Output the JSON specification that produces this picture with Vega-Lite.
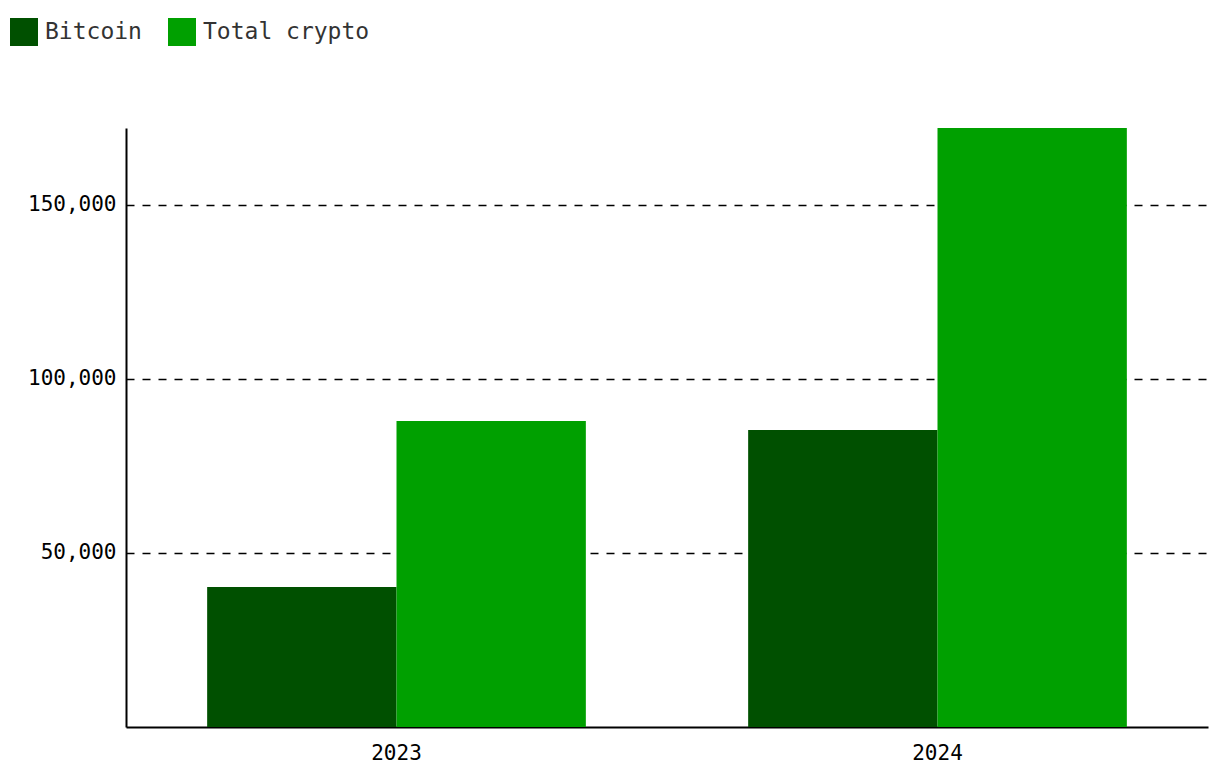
{
  "$schema": "https://vega.github.io/schema/vega-lite/v6.json",
  "width": 1082,
  "height": 599,
  "autosize": {"type": "none"},
  "padding": {"left": 126, "top": 128, "right": 12, "bottom": 57},
  "background": "white",
  "config": {
    "view": {"stroke": null},
    "font": "DejaVu Sans Mono"
  },
  "data": {
    "values": [
      {"year": "2023", "series": "Bitcoin", "value": 40200},
      {"year": "2023", "series": "Total crypto", "value": 87900},
      {"year": "2024", "series": "Bitcoin", "value": 85300},
      {"year": "2024", "series": "Total crypto", "value": 172000}
    ]
  },
  "mark": {"type": "bar"},
  "encoding": {
    "x": {
      "field": "year",
      "type": "nominal",
      "scale": {"paddingInner": 0.3, "paddingOuter": 0.15},
      "axis": {
        "title": null,
        "labelAngle": 0,
        "labelFont": "DejaVu Sans Mono",
        "labelFontSize": 21,
        "labelColor": "#000",
        "labelPadding": 15,
        "ticks": false,
        "domainColor": "#000",
        "domainWidth": 2,
        "grid": false
      }
    },
    "xOffset": {"field": "series", "type": "nominal", "sort": ["Bitcoin", "Total crypto"]},
    "y": {
      "field": "value",
      "type": "quantitative",
      "scale": {"domain": [0, 172000], "nice": false},
      "axis": {
        "title": null,
        "values": [50000, 100000, 150000],
        "format": ",d",
        "labelFont": "DejaVu Sans Mono",
        "labelFontSize": 21,
        "labelColor": "#000",
        "labelPadding": 10,
        "ticks": false,
        "domainColor": "#000",
        "domainWidth": 2,
        "grid": true,
        "gridColor": "#000",
        "gridWidth": 1.5,
        "gridDash": [8, 8]
      }
    },
    "color": {
      "field": "series",
      "type": "nominal",
      "sort": ["Bitcoin", "Total crypto"],
      "scale": {"domain": ["Bitcoin", "Total crypto"], "range": ["#005000", "#00a000"]},
      "legend": {
        "title": null,
        "orient": "none",
        "direction": "horizontal",
        "legendX": -116,
        "legendY": -110,
        "padding": 0,
        "symbolType": "square",
        "symbolSize": 784,
        "symbolStrokeWidth": 0,
        "symbolOpacity": 1,
        "labelFont": "DejaVu Sans Mono",
        "labelFontSize": 23,
        "labelLimit": 400,
        "labelColor": "#333",
        "labelOffset": 7,
        "columnPadding": 26
      }
    }
  }
}
